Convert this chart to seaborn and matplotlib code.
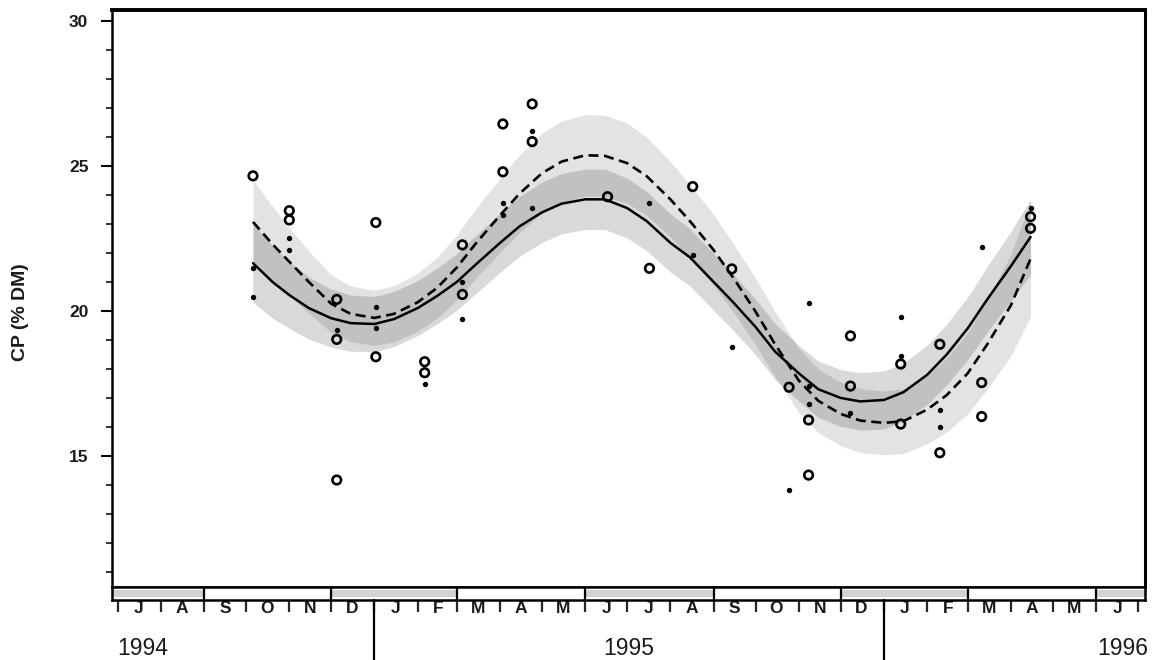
import numpy as np
import pandas as pd
import matplotlib
matplotlib.use("Agg")
import matplotlib.pyplot as plt
import matplotlib.dates as mdates
import matplotlib.transforms as mtransforms
from matplotlib.ticker import FixedLocator, MultipleLocator, FuncFormatter, NullFormatter
import seaborn as sns

# ---------------- data ----------------
curve_dates = ["1994-10-06", "1994-10-20", "1994-11-01", "1994-11-15", "1994-12-01", "1994-12-15",
               "1995-01-01", "1995-01-15", "1995-02-01", "1995-02-15", "1995-03-01", "1995-03-15",
               "1995-04-01", "1995-04-15", "1995-05-01", "1995-05-15", "1995-06-01", "1995-06-15",
               "1995-07-01", "1995-07-15", "1995-08-01", "1995-08-15", "1995-09-01", "1995-09-15",
               "1995-10-01", "1995-10-15", "1995-11-01", "1995-11-15", "1995-12-01", "1995-12-15",
               "1996-01-01", "1996-01-15", "1996-02-01", "1996-02-15", "1996-03-01", "1996-03-15",
               "1996-04-01", "1996-04-15"]
solid_cp = [21.65, 21.0, 20.55, 20.1, 19.75, 19.58, 19.55, 19.72, 20.1, 20.52, 21.0, 21.62,
            22.35, 22.92, 23.4, 23.7, 23.85, 23.85, 23.55, 23.1, 22.35, 21.85, 21.0, 20.3,
            19.45, 18.6, 17.85, 17.3, 17.0, 16.88, 16.93, 17.2, 17.8, 18.5, 19.4, 20.4,
            21.55, 22.55]
solid_halfwidth = [1.35, 1.25, 1.15, 1.07, 1.0, 0.97, 0.95, 0.95, 0.95, 0.96, 0.98, 1.0,
                   1.02, 1.03, 1.04, 1.04, 1.04, 1.04, 1.03, 1.02, 1.0, 0.99, 0.98, 0.97,
                   0.96, 0.96, 0.96, 0.97, 0.98, 0.99, 1.0, 1.0, 1.02, 1.05, 1.08, 1.13,
                   1.2, 1.3]
dashed_cp = [23.07, 22.3, 21.7, 21.0, 20.25, 19.9, 19.76, 19.9, 20.3, 20.8, 21.5, 22.35,
             23.3, 24.05, 24.75, 25.15, 25.37, 25.35, 25.1, 24.65, 23.85, 23.1, 22.1, 21.15,
             19.98, 18.85, 17.6, 16.9, 16.45, 16.22, 16.14, 16.2, 16.6, 17.1, 17.85, 18.85,
             20.2, 21.8]
dashed_halfwidth = [1.45, 1.3, 1.17, 1.07, 1.0, 0.96, 0.95, 0.97, 1.0, 1.05, 1.12, 1.2,
                    1.28, 1.34, 1.38, 1.4, 1.4, 1.4, 1.38, 1.35, 1.3, 1.26, 1.22, 1.18,
                    1.15, 1.12, 1.1, 1.1, 1.1, 1.1, 1.1, 1.12, 1.18, 1.27, 1.4, 1.55,
                    1.75, 2.0]

circle_dates = ["1994-10-06", "1994-11-01", "1994-11-01", "1994-12-05", "1994-12-05", "1994-12-05",
                "1995-01-02", "1995-01-02", "1995-02-06", "1995-02-06", "1995-03-05", "1995-03-05",
                "1995-04-03", "1995-04-03", "1995-04-24", "1995-04-24", "1995-06-17", "1995-07-17",
                "1995-08-17", "1995-09-14", "1995-10-25", "1995-11-08", "1995-11-08", "1995-12-08",
                "1995-12-08", "1996-01-13", "1996-01-13", "1996-02-10", "1996-02-10", "1996-03-11",
                "1996-03-11", "1996-04-15", "1996-04-15"]
circle_cp = [24.66, 23.46, 23.14, 20.40, 19.02, 14.17,
             23.05, 18.42, 18.25, 17.87, 22.28, 20.57,
             26.45, 24.80, 27.14, 25.84, 23.94, 21.47,
             24.29, 21.45, 17.37, 16.24, 14.34, 19.14,
             17.41, 18.17, 16.10, 18.85, 15.11, 17.53,
             16.36, 23.25, 22.85]

dot_dates = ["1994-10-06", "1994-10-06", "1994-11-01", "1994-11-01", "1994-12-05", "1995-01-02",
             "1995-01-02", "1995-02-06", "1995-03-05", "1995-03-05", "1995-04-03", "1995-04-03",
             "1995-04-24", "1995-04-24", "1995-07-17", "1995-08-17", "1995-09-14", "1995-10-25",
             "1995-11-08", "1995-11-08", "1995-11-08", "1995-12-08", "1996-01-13", "1996-01-13",
             "1996-02-10", "1996-02-10", "1996-03-11", "1996-04-15"]
dot_cp = [21.47, 20.49, 22.53, 22.10, 19.33, 20.12,
          19.40, 17.47, 21.01, 19.74, 23.71, 23.30,
          26.21, 23.56, 23.71, 21.93, 18.77, 13.83,
          20.26, 17.40, 16.79, 16.48, 19.80, 18.46,
          16.59, 16.01, 22.22, 23.54]

month_letters = ["J", "F", "M", "A", "M", "J", "J", "A", "S", "O", "N", "D"]
year_labels = ["1994", "1995", "1996"]
y_ticks = [15, 20, 25, 30]
y_label = "CP (% DM)"

# ---------------- styling ----------------
sns.set_theme(style="white")
plt.rcParams["font.family"] = ["Liberation Sans", "DejaVu Sans"]

W, H = 1163, 660
fig = plt.figure(figsize=(W / 100, H / 100), dpi=100)
x0, x1 = 112 / W, 1145 / W
ax = fig.add_axes([x0, 1 - 587 / H, x1 - x0, (587 - 10) / H])
axs = fig.add_axes([x0, 1 - 600 / H, x1 - x0, 13 / H], sharex=ax)

curves = pd.DataFrame({
    "date": pd.to_datetime(curve_dates),
    "solid": solid_cp, "solid_hw": solid_halfwidth,
    "dashed": dashed_cp, "dashed_hw": dashed_halfwidth,
})
circles = pd.DataFrame({"date": pd.to_datetime(circle_dates), "cp": circle_cp})
dots = pd.DataFrame({"date": pd.to_datetime(dot_dates), "cp": dot_cp})

# confidence bands
ax.fill_between(curves["date"], curves["dashed"] - curves["dashed_hw"],
                curves["dashed"] + curves["dashed_hw"], color="black", alpha=0.11,
                linewidth=0, zorder=1)
ax.fill_between(curves["date"], curves["solid"] - curves["solid_hw"],
                curves["solid"] + curves["solid_hw"], color="black", alpha=0.15,
                linewidth=0, zorder=1)

# fitted curves
sns.lineplot(data=curves, x="date", y="solid", ax=ax, color="black", linewidth=1.8,
             zorder=3)
sns.lineplot(data=curves, x="date", y="dashed", ax=ax, color="black", linewidth=1.9,
             linestyle=(0, (3.8, 2.1)), zorder=3)

# observations
sns.scatterplot(data=circles, x="date", y="cp", ax=ax, marker="o", s=38,
                facecolor="none", edgecolor="black", linewidth=1.9, zorder=5)
sns.scatterplot(data=dots, x="date", y="cp", ax=ax, marker="o", s=15,
                color="black", edgecolor="black", linewidth=0, zorder=5)

ax.set_xlim(pd.Timestamp("1994-06-27"), pd.Timestamp("1996-07-06"))
ax.set_ylim(10.48, 30.38)
ax.set_xlabel("")
ax.set_ylabel(y_label, fontsize=14, fontweight="bold", color="#1a1a1a")
ax.yaxis.set_label_coords(-0.080, 0.4766)

ax.yaxis.set_major_locator(FixedLocator(y_ticks))
ax.yaxis.set_minor_locator(MultipleLocator(1))
ax.tick_params(axis="y", which="major", left=True, direction="out", length=8,
               width=1.5, labelsize=12.5, pad=9, colors="black")
ax.tick_params(axis="y", which="minor", left=True, direction="out", length=4.5,
               width=1.3)
for lab in ax.get_yticklabels():
    lab.set_fontweight("bold")
    lab.set_color("#1a1a1a")
ax.tick_params(axis="x", which="both", bottom=False, labelbottom=False)

for side, lw in [("left", 1.8), ("top", 2.8), ("right", 2.2), ("bottom", 1.8)]:
    ax.spines[side].set_visible(True)
    ax.spines[side].set_color("black")
    ax.spines[side].set_linewidth(lw)

# ---------------- season strip and month axis ----------------
axs.set_ylim(0, 1)
axs.set_yticks([])
axs.set_ylabel("")
for side in ["left", "top", "right", "bottom"]:
    axs.spines[side].set_visible(True)
    axs.spines[side].set_color("black")
    axs.spines[side].set_linewidth(1.8)

for yr in [1993, 1994, 1995, 1996]:
    for a, b in [(f"{yr}-12-01", f"{yr + 1}-03-01"), (f"{yr}-06-01", f"{yr}-09-01")]:
        axs.axvspan(pd.Timestamp(a), pd.Timestamp(b), ymin=0.2, ymax=0.8,
                    color="#d2d2d2", linewidth=0)
    for m in ["03", "06", "09", "12"]:
        axs.axvline(pd.Timestamp(f"{yr}-{m}-01"), color="black", linewidth=1.6)

axs.xaxis.set_major_locator(mdates.MonthLocator())
axs.xaxis.set_major_formatter(NullFormatter())
axs.xaxis.set_minor_locator(mdates.MonthLocator(bymonthday=16))
axs.xaxis.set_minor_formatter(
    FuncFormatter(lambda v, pos: month_letters[mdates.num2date(v).month - 1]))
axs.tick_params(axis="x", which="major", bottom=True, direction="out", length=8.5,
                width=1.6, labelbottom=False)
axs.tick_params(axis="x", which="minor", bottom=True, length=0, pad=1.0,
                labelsize=12.5, labelbottom=True)
for lab in axs.get_xticklabels(minor=True):
    lab.set_fontweight("bold")
    lab.set_color("#1a1a1a")

blend = mtransforms.blended_transform_factory(axs.transData, axs.transAxes)
for d in ["1995-01-01", "1996-01-01"]:
    xn = mdates.date2num(pd.Timestamp(d))
    axs.plot([xn, xn], [0, -4.7], transform=blend, clip_on=False, color="black",
             linewidth=1.6)

year_pos = [("1994-07-01", "left"), ("1995-07-02", "center"), ("1996-07-08", "right")]
for lab, (d, ha) in zip(year_labels, year_pos):
    axs.text(mdates.date2num(pd.Timestamp(d)), -3.7, lab, transform=blend, ha=ha,
             va="center", fontsize=16.5, color="#1a1a1a")

fig.savefig("out.png", dpi=100)
